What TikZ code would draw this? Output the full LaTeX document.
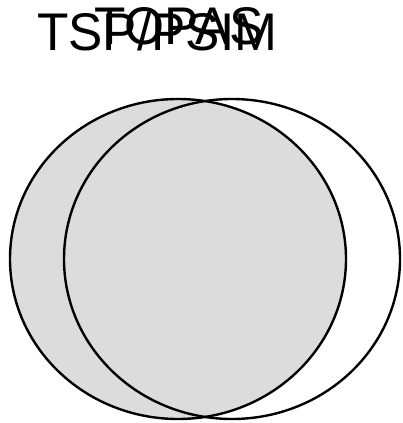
\documentclass[tikz,border=0pt]{standalone}
\usepackage{fontspec}
\setmainfont{Liberation Sans}
\begin{document}
\begin{tikzpicture}[x=1pt,y=-1pt,
  setline/.style={draw=black,line width=2.4pt},
  lbl/.style={anchor=base west,inner sep=0pt,xscale=0.97,font=\fontsize{53}{53}\selectfont}]
\useasboundingbox (0,0) rectangle (402,423);
\fill[white] (0,0) rectangle (402,423);
\draw[setline,fill={rgb,255:red,220;green,220;blue,220}] (178,259) ellipse [x radius=168,y radius=160];
\draw[setline] (232,259) ellipse [x radius=168,y radius=160];
\node[lbl] (a) at (37,50) {TSP/PSIM};
\node[lbl] (b) at (94,44) {TOPAS};
\end{tikzpicture}
\end{document}
